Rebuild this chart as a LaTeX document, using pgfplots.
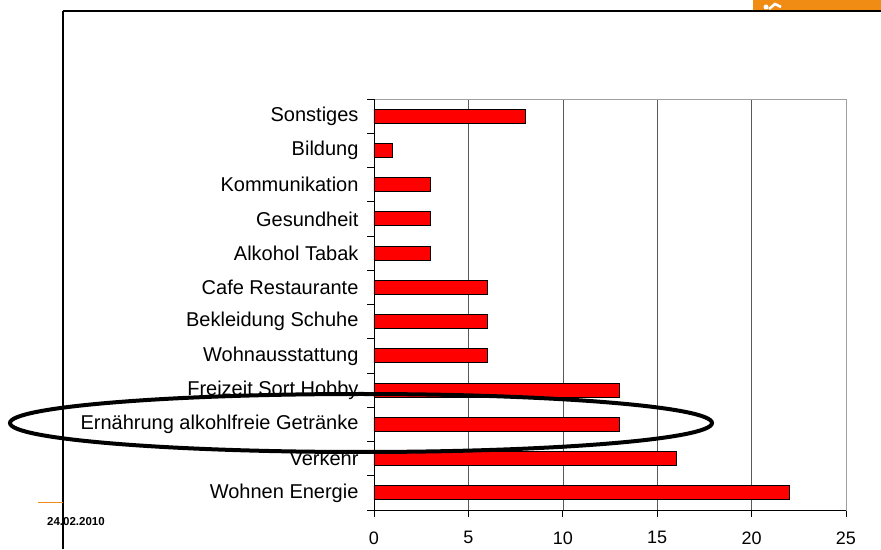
\documentclass[border=0pt]{standalone}
\usepackage{fontspec}
\setmainfont{Liberation Sans}
\usepackage{pgfplots}
\pgfplotsset{compat=1.18}
\definecolor{logo}{RGB}{240,140,20}
\definecolor{gridc}{RGB}{90,90,90}
\definecolor{topc}{RGB}{160,160,160}
\begin{document}
\begin{tikzpicture}[x=1pt,y=1pt]
\useasboundingbox (0,0) rectangle (881,549);
\fill[white] (0,0) rectangle (881,549);
\fill[logo] (753,539) rectangle (881,549);
\fill[white] (766,542) circle (2.5);
\draw[white, line width=2.5pt] (769,540) -- (775,545) -- (781,542);
\draw[line width=1.3pt] (63,538) -- (881,538);
\draw[line width=1.3pt] (63,538) -- (63,0);
\draw[logo, line width=0.8pt] (38,47) -- (63,47);
\node[anchor=west, inner sep=0pt, font=\bfseries\fontsize{11.5}{13}\selectfont] at (47,27) {24.02.2010};
\begin{axis}[
  at={(374pt,39pt)}, anchor=south west, scale only axis,
  width=472pt, height=411pt,
  xbar, bar width=14pt,
  xmin=0, xmax=25, ymin=0.5, ymax=12.5,
  xtick={0,5,...,25},
  /pgf/number format/assume math mode=true,
  xmajorgrids, grid style={gridc, line width=0.6pt},
  axis line style={topc, line width=0.8pt},
  tick align=outside, xtick pos=bottom, ytick pos=left,
  major tick length=7pt,
  tick style={black, line width=0.8pt},
  ytick={0.5,1.5,...,12.5}, yticklabels={},
  extra y ticks={1,2,...,12},
  extra y tick labels={Wohnen Energie,Verkehr,Ernährung alkohlfreie Getränke,Freizeit Sort Hobby,Wohnausstattung,Bekleidung Schuhe,Cafe Restaurante,Alkohol Tabak,Gesundheit,Kommunikation,Bildung,Sonstiges},
  extra y tick style={tick style={draw=none}},
  yticklabel style={font=\fontsize{20}{23}\selectfont, xshift=-5pt},
  xticklabel style={font=\fontsize{18}{20}\selectfont, yshift=-11pt},
]
\addplot[fill=red, draw=black, line width=0.8pt] coordinates {(22,1) (16,2) (13,3) (13,4) (6,5) (6,6) (6,7) (3,8) (3,9) (3,10) (1,11) (8,12)};
\draw[black, line width=0.9pt] (rel axis cs:0,0) -- (rel axis cs:0,1);
\draw[black, line width=0.9pt] (rel axis cs:0,0) -- (rel axis cs:1,0);
\end{axis}
\draw[line width=4pt] (361,126) ellipse [x radius=351pt, y radius=29pt];
\end{tikzpicture}
\end{document}
